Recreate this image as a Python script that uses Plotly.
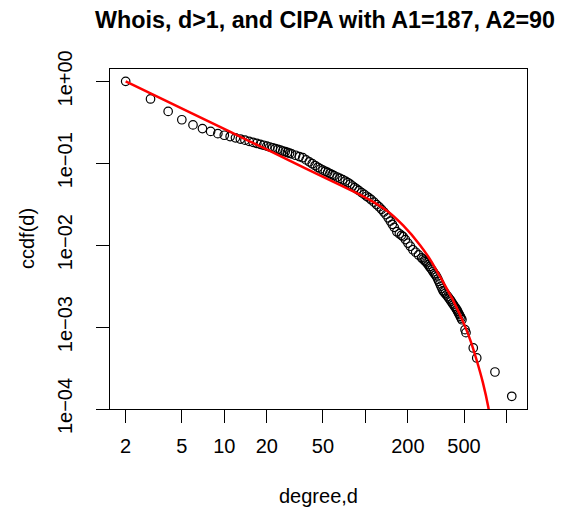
import plotly.graph_objects as go

# Observed ccdf of degree (circles)
degree = [2, 3, 4, 5, 6, 7, 8, 9, 10,
          11, 12, 13, 14, 15, 16, 17, 18, 19, 20,
          21, 22, 23, 24, 25, 26, 27, 28, 29, 30,
          32, 34, 36, 38, 40, 42, 44, 46, 48, 50,
          52, 54, 56, 58, 60, 63, 66, 69, 72, 75,
          78, 81, 84, 87, 90, 94, 98, 102, 106, 110,
          115, 120, 125, 130, 135, 140, 145, 150, 155, 160,
          167, 174, 180, 185, 192, 200, 208, 217, 227, 238,
          250, 256, 262, 267, 272, 278, 284, 290, 296, 302,
          308, 314, 320, 326, 331, 337, 343, 349, 355, 361,
          368, 375, 383, 390, 398, 405, 413, 420, 428, 436,
          444, 450, 457, 463, 470, 476, 483, 508, 516, 581,
          615, 828, 1089]
ccdf = [1.0, 0.61, 0.43, 0.34, 0.294, 0.265, 0.245, 0.23, 0.220,
        0.212, 0.2046, 0.1977, 0.1915, 0.1854, 0.1799, 0.1750, 0.1702, 0.1660, 0.1618,
        0.158, 0.1545, 0.151, 0.1479, 0.1445, 0.1413, 0.1384, 0.1355, 0.1327, 0.130,
        0.1253, 0.1208, 0.1169, 0.110, 0.1042, 0.0988, 0.0938, 0.0893, 0.0853, 0.0824,
        0.0798, 0.0773, 0.0750, 0.0728, 0.0707, 0.0679, 0.0653, 0.0630, 0.0607, 0.0582,
        0.0555, 0.0528, 0.0505, 0.0483, 0.0463, 0.0439, 0.0417, 0.0396, 0.0378, 0.0359,
        0.0335, 0.0313, 0.0294, 0.0274, 0.0254, 0.0236, 0.0216, 0.0197, 0.0180, 0.0165,
        0.0146, 0.0138, 0.0132, 0.0127, 0.0117, 0.0106, 0.0097, 0.0088, 0.0082, 0.0076,
        0.0070, 0.00675, 0.0065, 0.0063, 0.0061, 0.0058, 0.0055, 0.00524, 0.0050, 0.00474,
        0.0045, 0.00432, 0.0041, 0.00384, 0.00362, 0.00338, 0.00316, 0.00296, 0.00278, 0.00268,
        0.00257, 0.00247, 0.00236, 0.00226, 0.00216, 0.00207, 0.00196, 0.00188, 0.00179, 0.00171,
        0.00163, 0.00156, 0.00148, 0.00142, 0.00135, 0.00129, 0.00123, 0.00093, 0.000855, 0.000556,
        0.00042, 0.000283, 0.000143]

# CIPA fit (red line)
fit_degree = [2, 4, 8, 15, 29, 48, 82, 108, 142, 185, 244, 290, 338, 420, 508, 560, 615, 680, 743, 760]
fit_ccdf = [1.0, 0.561, 0.315, 0.187, 0.108, 0.0708, 0.0454, 0.0355, 0.0263, 0.0174,
            0.0100, 0.00653, 0.00412, 0.00209, 0.00102, 0.000656, 0.000391, 0.00021, 0.000105, 0.000082]

x_tickvals = [2, 5, 10, 20, 50, 100, 200, 500, 1000]
x_ticktext = ["2", "5", "10", "20", "50", "", "200", "500", ""]
y_tickvals = [1, 0.1, 0.01, 0.001, 0.0001]
y_ticktext = ["1e+00", "1e\u221201", "1e\u221202", "1e\u221203", "1e\u221204"]

FONT = "Liberation Sans, Arial, Helvetica, sans-serif"

fig = go.Figure()
fig.add_trace(go.Scatter(
    x=degree, y=ccdf, mode="markers",
    marker=dict(symbol="circle-open", size=8.5, color="black", line=dict(width=1.2, color="black")),
    showlegend=False))
fig.add_trace(go.Scatter(
    x=fit_degree, y=fit_ccdf, mode="lines",
    line=dict(color="#ff0000", width=2.5, shape="spline", smoothing=0.5),
    showlegend=False))

# page body has an 8px margin: compensate so the figure lands where the reference is
W, H = 565, 506
L, R, T, B = 102, 46, 61, 105

fig.update_layout(
    width=W, height=H,
    margin=dict(l=L, r=R, t=T, b=B, autoexpand=False),
    paper_bgcolor="white", plot_bgcolor="white",
    font=dict(family=FONT, color="black", size=20),
    title=dict(text="<b>Whois, d>1, and CIPA with A1=187, A2=90</b>",
               font=dict(family=FONT, size=23.3, color="black"),
               x=317 / W, xanchor="center", xref="container",
               y=1 - 11.5 / H, yanchor="middle", yref="container"),
    xaxis=dict(type="log", range=[0.190, 3.145], tickvals=x_tickvals, ticktext=x_ticktext,
               ticks="outside", ticklen=13, tickwidth=1, tickcolor="black",
               showline=True, linecolor="black", linewidth=1, mirror=True,
               showgrid=False, zeroline=False, tickfont=dict(size=20),
               ticklabelstandoff=6),
    yaxis=dict(type="log", range=[-4.0, 0.151], tickvals=y_tickvals, ticktext=y_ticktext,
               ticks="outside", ticklen=13, tickwidth=1, tickcolor="black",
               showline=True, linecolor="black", linewidth=1, mirror=True,
               showgrid=False, zeroline=False, tickfont=dict(size=20), tickangle=-90,
               ticklabelstandoff=16),
    annotations=[
        dict(text="degree,d", xref="paper", yref="paper", x=0.5, y=-(496 - 409) / (H - T - B),
             xanchor="center", yanchor="middle", showarrow=False, font=dict(size=20)),
        dict(text="ccdf(d)", xref="paper", yref="paper", x=-(110 - 27) / (W - L - R), y=0.5,
             xanchor="center", yanchor="middle", showarrow=False, textangle=-90, font=dict(size=20)),
    ],
)

fig.write_html("out.html")
